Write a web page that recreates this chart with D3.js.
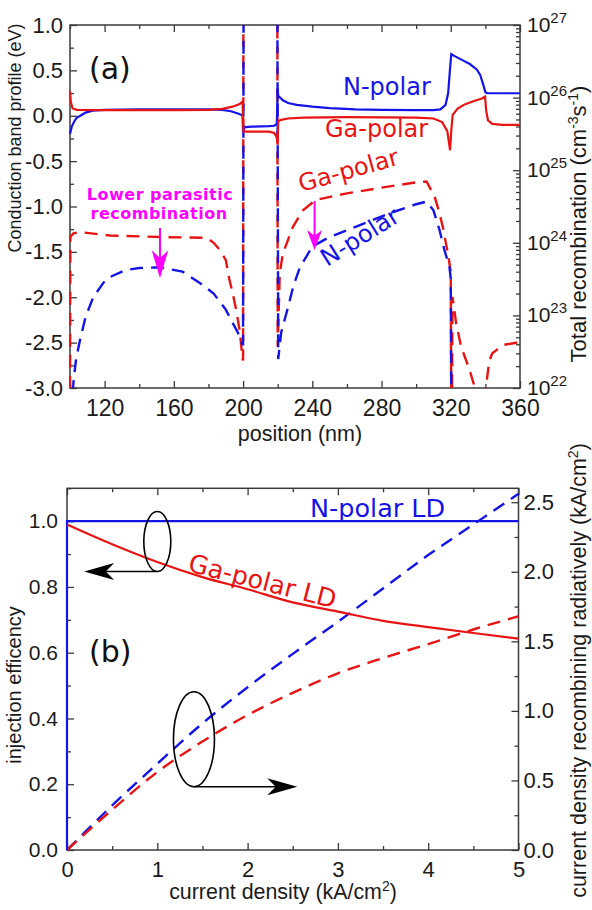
<!DOCTYPE html>
<html><head><meta charset="utf-8">
<script src="https://cdn.jsdelivr.net/npm/d3@7"></script>
<style>body{margin:0;background:#fff}svg{display:block}</style>
</head><body>
<svg id="c" width="592" height="910"></svg>
<script>
// ---------------- Panel (a) data ----------------
const posMajorTicks = [120,160,200,240,280,320,360];
const posMinorTicks = [100,140,180,220,260,300,340];
const bandMajorTicks = [-3,-2.5,-2,-1.5,-1,-0.5,0,0.5,1];
const bandMinorTicks = [-2.75,-2.25,-1.75,-1.25,-0.75,-0.25,0.25,0.75];
const recombExponents = [22,23,24,25,26,27];

// conduction band profile (eV), N-polar (solid blue)
const nBandPos = [100,101,102.5,104,106,109,113,120,140,160,180,188,193,197,199.7,200,200.3,201.5,205,215,218,219.5,220,220.3,223,226,231,240,250,265,280,300,310,314,317,318.5,319.5,320.3,322,327,331,335,337,338.5,340,341,345,360];
const nBandVal = [-0.20,-0.12,-0.06,-0.02,0.0,0.035,0.056,0.065,0.07,0.07,0.07,0.065,0.05,0.025,0.005,-0.18,-0.14,-0.125,-0.12,-0.115,-0.11,-0.09,0.30,0.22,0.17,0.14,0.12,0.10,0.085,0.07,0.065,0.063,0.063,0.07,0.12,0.25,0.5,0.68,0.66,0.61,0.57,0.51,0.45,0.36,0.26,0.25,0.248,0.248];
// conduction band profile (eV), Ga-polar (solid red)
const gaBandPos = [100,100.5,101.5,104,120,160,180,188,194,198,199.7,200.2,202,215,218,219.5,220,220.3,222,226,235,260,300,310,315,318,319.6,320.3,321.1,324,328,333,338,339.8,340.5,341.5,344,350,360];
const gaBandVal = [0.27,0.15,0.08,0.065,0.062,0.062,0.065,0.075,0.1,0.13,0.155,-0.17,-0.175,-0.175,-0.19,-0.24,-0.32,-0.06,-0.045,-0.03,-0.02,-0.015,-0.02,-0.03,-0.07,-0.17,-0.38,-0.16,0.01,0.08,0.125,0.16,0.19,0.21,0.05,-0.05,-0.09,-0.1,-0.1];
// total recombination (cm^-3 s^-1), N-polar (dashed blue)
const nRecPos = [101.3,102,103.5,105.8,109,113.5,121,132,140,152,165,175,183,190,195,197,199.5,200,200.3,219.8,220.3,222,226,229,232.7,240,250,265,285,300,306,310,313.5,316.3,319.2,320,320.3];
const nRecVal = [6e21,1.2e22,2.5e22,4.6e22,9.5e22,1.8e23,3.2e23,4.2e23,4.5e23,4.6e23,4.0e23,2.8e23,2.0e23,1.2e23,7.1e22,5.8e22,4.0e22,4.0e22,3e27,3e27,2.5e22,5.8e22,1.3e23,2.5e23,4.5e23,8.9e23,1.2e24,1.66e24,2.57e24,3.4e24,3.7e24,2.8e24,1.5e24,8e23,4.7e23,3.2e23,5e21];
// total recombination (cm^-3 s^-1), Ga-polar (dashed red)
const gaRecPos = [100,100.2,102,106,123,152,179,183,186.5,190,192,194,196,198,199.7,200,200.2,219.8,220,221.2,223,225,228.8,234.6,242,260,280,300,306,310.6,313,315.4,318.3,320,320.3,320.7,321,323.1,326,330.8,333.7,336,339,340,342.3,344,346.2,350,357.7,360];
const gaRecVal = [5e21,1.2e24,1.35e24,1.4e24,1.26e24,1.2e24,1.17e24,1.0e24,8e23,5.8e23,3.2e23,2.0e23,1.2e23,6.3e22,2.5e22,2.4e22,3e27,3e27,3.7e22,3.8e23,7.2e23,9.5e23,1.66e24,2.8e24,3.9e24,4.8e24,5.75e24,6.8e24,7.0e24,4.4e24,2.8e24,1.66e24,7.2e23,4.0e23,4e21,4e21,1.8e23,7.8e22,3.7e22,1.8e22,1.05e22,6e21,6e21,9e21,2.4e22,3.0e22,3.3e22,3.9e22,4.2e22,4.2e22];

// ---------------- Panel (b) data ----------------
const currentMajorTicks = [0,1,2,3,4,5];
const currentMinorTicks = [0.5,1.5,2.5,3.5,4.5];
const injMajorTicks = [0,0.2,0.4,0.6,0.8,1.0];
const injMinorTicks = [0.1,0.3,0.5,0.7,0.9,1.1];
const radMajorTicks = [0,0.5,1.0,1.5,2.0,2.5];
const radMinorTicks = [0.25,0.75,1.25,1.75,2.25];

const current = [0,0.5,1,1.5,2,2.5,3,3.5,4,4.5,5];
const nCurrent = [0,0,5];
const nInjection = [0,1.0,1.0];
const gaInjection = [0.99,0.93,0.876,0.83,0.793,0.753,0.725,0.697,0.678,0.66,0.643];
const nRadiative = [0,0.32,0.62,0.91,1.17,1.41,1.64,1.88,2.12,2.34,2.56];
const gaRadiative = [0,0.29,0.56,0.78,0.97,1.13,1.27,1.38,1.48,1.585,1.68];

// ---------------- styles ----------------
const BLUE = '#1414e6', RED = '#e81414', MAG = '#ff00ff', AX = '#3a3a3a', TXT = '#1a1a1a';
const ARIAL = "'Liberation Sans', Arial, sans-serif";
const DJV = "'DejaVu Sans', Verdana, sans-serif";
const svg = d3.select('#c');
svg.append('rect').attr('width',592).attr('height',910).attr('fill','#fff');

function styleAxis(g, fs){
  g.select('.domain').remove();
  g.selectAll('line').attr('stroke',AX).attr('stroke-width',1.3);
  g.selectAll('text').attr('font-size',fs).attr('font-family',ARIAL).attr('fill',TXT);
}
function arrowHead(g, tip, dirX, dirY, len, half, color){
  // barbed arrow head pointing in (dirX,dirY)
  const px = -dirY, py = dirX;
  const bx = tip[0]-dirX*len, by = tip[1]-dirY*len;
  const nx = tip[0]-dirX*len*0.72, ny = tip[1]-dirY*len*0.72;
  g.append('path')
    .attr('d',`M${tip[0]},${tip[1]}L${bx+px*half},${by+py*half}L${nx},${ny}L${bx-px*half},${by-py*half}Z`)
    .attr('fill',color);
}

// ================= PANEL (a) =================
const xA = d3.scaleLinear().domain([100,360]).range([70,520]);
const yA = d3.scaleLinear().domain([-3,1]).range([388,25]);
const yAR = d3.scaleLog().domain([1e22,1e27]).range([388,25]);

svg.append('clipPath').attr('id','clipA').append('rect').attr('x',68.5).attr('y',25).attr('width',453).attr('height',363);
svg.append('rect').attr('x',70).attr('y',25).attr('width',450).attr('height',363)
  .attr('fill','none').attr('stroke',AX).attr('stroke-width',1.5);

// axes (inward ticks)
svg.append('g').attr('transform','translate(0,388)')
  .call(d3.axisBottom(xA).tickValues(posMajorTicks).tickSize(-7).tickPadding(12).tickFormat(d3.format('d')))
  .call(g=>styleAxis(g,23));
svg.append('g').attr('transform','translate(0,388)')
  .call(d3.axisBottom(xA).tickValues(posMinorTicks).tickSize(-4).tickFormat(''))
  .call(g=>styleAxis(g,23));
svg.append('g').attr('transform','translate(0,25)')
  .call(d3.axisTop(xA).tickValues(posMajorTicks).tickSize(-7).tickFormat(''))
  .call(g=>styleAxis(g,23));
svg.append('g').attr('transform','translate(0,25)')
  .call(d3.axisTop(xA).tickValues(posMinorTicks).tickSize(-4).tickFormat(''))
  .call(g=>styleAxis(g,23));
svg.append('g').attr('transform','translate(70,0)')
  .call(d3.axisLeft(yA).tickValues(bandMajorTicks).tickSize(-7).tickPadding(7).tickFormat(d=>d.toFixed(1)))
  .call(g=>styleAxis(g,22));
svg.append('g').attr('transform','translate(70,0)')
  .call(d3.axisLeft(yA).tickValues(bandMinorTicks).tickSize(-4).tickFormat(''))
  .call(g=>styleAxis(g,22));
// right log axis
const logMajor = recombExponents.map(e=>Math.pow(10,e));
const logMinor = [];
recombExponents.slice(0,-1).forEach(e=>{ for(let m=2;m<=9;m++) logMinor.push(m*Math.pow(10,e)); });
svg.append('g').attr('transform','translate(520,0)')
  .call(d3.axisRight(yAR).tickValues(logMajor).tickSize(-7).tickFormat(''))
  .call(g=>styleAxis(g,20));
svg.append('g').attr('transform','translate(520,0)')
  .call(d3.axisRight(yAR).tickValues(logMinor).tickSize(-4).tickFormat(''))
  .call(g=>styleAxis(g,20));
recombExponents.forEach(e=>{
  const t = svg.append('text').attr('x',527).attr('y',yAR(Math.pow(10,e))+7)
    .attr('font-family',ARIAL).attr('fill',TXT);
  t.append('tspan').attr('font-size',21).text('10');
  t.append('tspan').attr('font-size',15).attr('dy',-9).text(String(e));
});

// curves
const plotA = svg.append('g').attr('clip-path','url(#clipA)');
const lineBand = d3.line().x(d=>xA(d[0])).y(d=>yA(d[1]));
const lineRec = d3.line().x(d=>xA(d[0])).y(d=>yAR(d[1]));
const zip = (a,b)=>a.map((v,i)=>[v,b[i]]);
plotA.append('path').attr('d',lineRec(zip(gaRecPos,gaRecVal))).attr('fill','none')
  .attr('stroke',RED).attr('stroke-width',2.4).attr('stroke-dasharray','13,8');
plotA.append('path').attr('d',lineRec(zip(nRecPos,nRecVal))).attr('fill','none')
  .attr('stroke',BLUE).attr('stroke-width',2.4).attr('stroke-dasharray','13,8').attr('stroke-dashoffset',10);
plotA.append('path').attr('d',lineBand(zip(nBandPos,nBandVal))).attr('fill','none')
  .attr('stroke',BLUE).attr('stroke-width',2.2);
plotA.append('path').attr('d',lineBand(zip(gaBandPos,gaBandVal))).attr('fill','none')
  .attr('stroke',RED).attr('stroke-width',2.2);

// annotations (a)
svg.append('text').attr('x',89).attr('y',79).attr('font-family',DJV).attr('font-size',30).attr('fill','#111').text('(a)');
svg.append('text').attr('x',343).attr('y',95).attr('font-family',DJV).attr('font-size',24).attr('fill',BLUE).text('N-polar');
svg.append('text').attr('x',325).attr('y',136.5).attr('font-family',DJV).attr('font-size',24).attr('fill',RED).text('Ga-polar');
svg.append('text').attr('transform','translate(301,192) rotate(-15.6)').attr('font-family',DJV).attr('font-size',24).attr('fill',RED).text('Ga-polar');
svg.append('text').attr('transform','translate(327,267) rotate(-32)').attr('font-family',DJV).attr('font-size',24).attr('fill',BLUE).text('N-polar');
svg.append('text').attr('x',160).attr('y',199.5).attr('text-anchor','middle').attr('font-family',DJV).attr('font-weight','bold').attr('font-size',16).attr('letter-spacing',0.5).attr('fill',MAG).text('Lower parasitic');
svg.append('text').attr('x',159).attr('y',218.5).attr('text-anchor','middle').attr('font-family',DJV).attr('font-weight','bold').attr('font-size',16).attr('letter-spacing',0.5).attr('fill',MAG).text('recombination');
// magenta arrows (data coordinates)
[[152,-1.237,-1.79,28,8.3],[241.3,-0.94,-1.48,20,7.5]].forEach(([p,y0,y1,len,half])=>{
  const x = xA(p), ya = yA(y0), yb = yA(y1);
  svg.append('line').attr('x1',x).attr('x2',x).attr('y1',ya).attr('y2',yb-len*0.6)
    .attr('stroke',MAG).attr('stroke-width',2);
  arrowHead(svg,[x,yb],0,1,len,half,MAG);
});

// axis titles (a)
svg.append('text').attr('x',300).attr('y',441).attr('text-anchor','middle').attr('font-family',ARIAL).attr('font-size',21.5).attr('fill',TXT).text('position (nm)');
svg.append('text').attr('transform','translate(21,138) rotate(-90)').attr('text-anchor','middle').attr('font-family',ARIAL).attr('font-size',18).attr('fill',TXT).text('Conduction band profile (eV)');
{
  const t = svg.append('text').attr('transform','translate(586,224) rotate(-90)').attr('text-anchor','middle').attr('font-family',ARIAL).attr('font-size',22).attr('fill',TXT);
  t.append('tspan').text('Total recombination (cm');
  t.append('tspan').attr('dy',-8).attr('font-size',14).text('-3');
  t.append('tspan').attr('dy',8).text('s');
  t.append('tspan').attr('dy',-8).attr('font-size',14).text('-1');
  t.append('tspan').attr('dy',8).text(')');
}

// ================= PANEL (b) =================
const xB = d3.scaleLinear().domain([0,5]).range([67,518.5]);
const yB = d3.scaleLinear().domain([0,1.1]).range([850,488.3]);
const yBR = d3.scaleLinear().domain([0,2.6]).range([850,488.3]);

svg.append('rect').attr('x',67).attr('y',488.3).attr('width',451.5).attr('height',361.7)
  .attr('fill','none').attr('stroke',AX).attr('stroke-width',1.5);

svg.append('g').attr('transform','translate(0,850)')
  .call(d3.axisBottom(xB).tickValues(currentMajorTicks).tickSize(-7).tickPadding(11).tickFormat(d3.format('d')))
  .call(g=>styleAxis(g,22));
svg.append('g').attr('transform','translate(0,850)')
  .call(d3.axisBottom(xB).tickValues(currentMinorTicks).tickSize(-4).tickFormat(''))
  .call(g=>styleAxis(g,22));
svg.append('g').attr('transform','translate(0,488.3)')
  .call(d3.axisTop(xB).tickValues(currentMajorTicks).tickSize(-7).tickFormat(''))
  .call(g=>styleAxis(g,22));
svg.append('g').attr('transform','translate(0,488.3)')
  .call(d3.axisTop(xB).tickValues(currentMinorTicks).tickSize(-4).tickFormat(''))
  .call(g=>styleAxis(g,22));
svg.append('g').attr('transform','translate(67,0)')
  .call(d3.axisLeft(yB).tickValues(injMajorTicks).tickSize(-7).tickPadding(9).tickFormat(d=>d.toFixed(1)))
  .call(g=>styleAxis(g,21));
svg.append('g').attr('transform','translate(67,0)')
  .call(d3.axisLeft(yB).tickValues(injMinorTicks).tickSize(-4).tickFormat(''))
  .call(g=>styleAxis(g,21));
svg.append('g').attr('transform','translate(518.5,0)')
  .call(d3.axisRight(yBR).tickValues(radMajorTicks).tickSize(-7).tickPadding(5).tickFormat(d=>d.toFixed(1)))
  .call(g=>styleAxis(g,22));
svg.append('g').attr('transform','translate(518.5,0)')
  .call(d3.axisRight(yBR).tickValues(radMinorTicks).tickSize(-4).tickFormat(''))
  .call(g=>styleAxis(g,22));

const lineInj = d3.line().x(d=>xB(d[0])).y(d=>yB(d[1])).curve(d3.curveMonotoneX);
const lineInjLin = d3.line().x(d=>xB(d[0])).y(d=>yB(d[1]));
const lineRad = d3.line().x(d=>xB(d[0])).y(d=>yBR(d[1])).curve(d3.curveMonotoneX);
svg.append('path').attr('d',lineRad(zip(current,nRadiative))).attr('fill','none')
  .attr('stroke',BLUE).attr('stroke-width',2.4).attr('stroke-dasharray','13,8');
svg.append('path').attr('d',lineRad(zip(current,gaRadiative))).attr('fill','none')
  .attr('stroke',RED).attr('stroke-width',2.4).attr('stroke-dasharray','13,8');
svg.append('path').attr('d',lineInjLin(zip(nCurrent,nInjection))).attr('fill','none')
  .attr('stroke',BLUE).attr('stroke-width',2.2);
svg.append('path').attr('d',lineInj(zip(current,gaInjection))).attr('fill','none')
  .attr('stroke',RED).attr('stroke-width',2.2);

// ellipses + black arrows (data coordinates)
[[1.0,0.938,13.5,30,0.19],[1.406,0.337,20.5,47.5,2.55]].forEach(([cx,cy,rx,ry,tx])=>{
  const x = xB(cx), y = yB(cy);
  svg.append('ellipse').attr('cx',x).attr('cy',y).attr('rx',rx).attr('ry',ry)
    .attr('fill','none').attr('stroke','#000').attr('stroke-width',1.6);
  const yb = y+ry, xt = xB(tx), dir = Math.sign(xt-x);
  svg.append('line').attr('x1',x).attr('y1',yb).attr('x2',xt-dir*18).attr('y2',yb)
    .attr('stroke','#000').attr('stroke-width',1.6);
  arrowHead(svg,[xt,yb],dir,0,30,8.5,'#000');
});

svg.append('text').attr('x',89).attr('y',662).attr('font-family',DJV).attr('font-size',30).attr('fill','#111').text('(b)');
svg.append('text').attr('x',310).attr('y',516.5).attr('font-family',DJV).attr('font-size',25.5).attr('fill',BLUE).text('N-polar LD');
svg.append('text').attr('transform','translate(187,571) rotate(14.3)').attr('font-family',DJV).attr('font-size',25.5).attr('fill',RED).text('Ga-polar LD');

{
  const t = svg.append('text').attr('x',283).attr('y',899).attr('text-anchor','middle').attr('font-family',ARIAL).attr('font-size',21.4).attr('fill',TXT);
  t.append('tspan').text('current density (kA/cm');
  t.append('tspan').attr('dy',-8).attr('font-size',14).text('2');
  t.append('tspan').attr('dy',8).text(')');
}
svg.append('text').attr('transform','translate(21,685) rotate(-90)').attr('text-anchor','middle').attr('font-family',ARIAL).attr('font-size',20).attr('fill',TXT).text('injection efficency');
{
  const t = svg.append('text').attr('transform','translate(586,670.5) rotate(-90)').attr('text-anchor','middle').attr('font-family',ARIAL).attr('font-size',21.5).attr('fill',TXT);
  t.append('tspan').text('current density recombining radiatively (kA/cm');
  t.append('tspan').attr('dy',-8).attr('font-size',14).text('2');
  t.append('tspan').attr('dy',8).text(')');
}
</script>
</body></html>
